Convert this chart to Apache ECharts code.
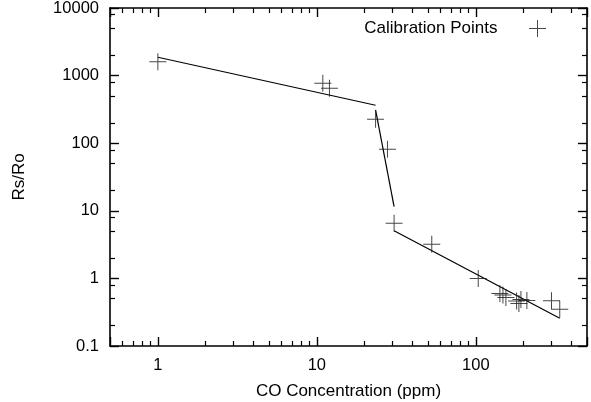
<!DOCTYPE html>
<html><head><meta charset="utf-8">
<script src="https://cdn.jsdelivr.net/npm/echarts@6/dist/echarts.min.js"></script>
<style>html,body{margin:0;padding:0;background:#fff}#c{width:591px;height:402px}</style>
</head><body><div id="c"></div>
<script>
// Calibration points (CO ppm, Rs/Ro)
const calibX = [1.0, 10.9, 12.0, 23.4, 27.8, 30.6, 52.8, 103.5, 141.6, 148, 154.5, 180.4, 186.5, 192, 209.3, 299, 337];
const calibY = [1607, 770, 650, 226, 81.3, 6.53, 3.19, 1.0, 0.598, 0.567, 0.521, 0.464, 0.426, 0.488, 0.471, 0.468, 0.349];
// Piecewise fit lines
const fit1X = [1.0, 23.4],  fit1Y = [1866, 364];
const fit2X = [23.4, 30.6], fit2Y = [310, 11.5];
const fit3X = [30.6, 337],  fit3Y = [5.08, 0.257];
// Axis ranges and tick values
const X_MIN = 0.5, X_MAX = 500, Y_MIN = 0.1, Y_MAX = 10000;
const xMinorTicks = [0.6, 0.7, 0.8, 0.9, 2, 3, 4, 5, 6, 7, 8, 9, 20, 30, 40, 50, 60, 70, 80, 90, 200, 300, 400];
const yMinorTicks = [0.2, 0.5, 0.8, 2, 5, 8, 20, 50, 80, 200, 500, 800, 2000, 5000, 8000];
const legendName = 'Calibration Points';
const xName = 'CO Concentration (ppm)';
const yName = 'Rs/Ro';

const FONT = 'Liberation Sans, Arial, Helvetica, sans-serif';
const PLUS = 'path://M-8.5,-0.5H8.5V0.5H-8.5Z M-0.5,-8.5H0.5V8.5H-0.5Z';
const pairs = (xs, ys) => xs.map((x, i) => [x, ys[i]]);
const decadeLabel = v => {
  const l = Math.log10(v);
  return Math.abs(l - Math.round(l)) < 1e-6 ? String(+v.toPrecision(6)) : '';
};
const lineW = 1.6;
const majorTick = { show: true, inside: true, length: 9, lineStyle: { color: '#000', width: 1.4 } };
const minorTick = { show: true, inside: true, length: 5, lineStyle: { color: '#000', width: 1.2 } };
const axisLineStyle = { show: true, onZero: false, lineStyle: { color: '#000', width: lineW } };
const noLine = { show: false, onZero: false };
const tickLabelStyle = { color: '#000', fontSize: 16.5, fontFamily: FONT };
const textStyle = { color: '#000', fontSize: 17, fontFamily: FONT };

const chart = echarts.init(document.getElementById('c'), null, { renderer: 'canvas' });
chart.setOption({
  animation: false,
  backgroundColor: '#fff',
  grid: { left: 110, right: 4, top: 8, bottom: 56, outerBoundsMode: 'none' },
  legend: {
    data: [{ name: legendName, icon: PLUS }],
    right: 45, top: 20, padding: 0,
    align: 'right', itemWidth: 70, itemHeight: 17,
    textStyle: textStyle, selectedMode: false
  },
  xAxis: [
    { type: 'log', logBase: 10, min: X_MIN, max: X_MAX, position: 'bottom',
      axisLine: axisLineStyle, axisTick: majorTick,
      axisLabel: Object.assign({ margin: 11, formatter: decadeLabel }, tickLabelStyle),
      splitLine: { show: false }, minorTick: { show: false },
      name: xName, nameLocation: 'middle', nameGap: 37, nameTextStyle: textStyle },
    { type: 'log', logBase: 10, min: X_MIN, max: X_MAX, position: 'top',
      axisLine: axisLineStyle, axisTick: majorTick, axisLabel: { show: false },
      splitLine: { show: false } },
    { type: 'value', min: Math.log10(X_MIN), max: Math.log10(X_MAX), position: 'bottom',
      axisLine: noLine, axisLabel: { show: false }, splitLine: { show: false },
      axisTick: Object.assign({ customValues: xMinorTicks.map(Math.log10) }, minorTick) },
    { type: 'value', min: Math.log10(X_MIN), max: Math.log10(X_MAX), position: 'top',
      axisLine: noLine, axisLabel: { show: false }, splitLine: { show: false },
      axisTick: Object.assign({ customValues: xMinorTicks.map(Math.log10) }, minorTick) }
  ],
  yAxis: [
    { type: 'log', logBase: 10, min: Y_MIN, max: Y_MAX, position: 'left',
      axisLine: axisLineStyle, axisTick: majorTick,
      axisLabel: Object.assign({ margin: 11, formatter: decadeLabel }, tickLabelStyle),
      splitLine: { show: false },
      name: yName, nameLocation: 'middle', nameGap: 82, nameRotate: 90, nameTextStyle: textStyle },
    { type: 'log', logBase: 10, min: Y_MIN, max: Y_MAX, position: 'right',
      axisLine: axisLineStyle, axisTick: majorTick, axisLabel: { show: false },
      splitLine: { show: false } },
    { type: 'value', min: Math.log10(Y_MIN), max: Math.log10(Y_MAX), position: 'left',
      axisLine: noLine, axisLabel: { show: false }, splitLine: { show: false },
      axisTick: Object.assign({ customValues: yMinorTicks.map(Math.log10) }, minorTick) },
    { type: 'value', min: Math.log10(Y_MIN), max: Math.log10(Y_MAX), position: 'right',
      axisLine: noLine, axisLabel: { show: false }, splitLine: { show: false },
      axisTick: Object.assign({ customValues: yMinorTicks.map(Math.log10) }, minorTick) }
  ],
  series: [
    { type: 'line', data: pairs(fit1X, fit1Y), showSymbol: false, symbol: 'none',
      lineStyle: { color: '#000', width: 1.2 }, silent: true, z: 2 },
    { type: 'line', data: pairs(fit2X, fit2Y), showSymbol: false, symbol: 'none',
      lineStyle: { color: '#000', width: 1.2 }, silent: true, z: 2 },
    { type: 'line', data: pairs(fit3X, fit3Y), showSymbol: false, symbol: 'none',
      lineStyle: { color: '#000', width: 1.2 }, silent: true, z: 2 },
    { type: 'scatter', name: legendName, data: pairs(calibX, calibY),
      symbol: PLUS, symbolSize: 17, itemStyle: { color: '#1a1a1a' }, z: 3 }
  ]
});
</script>
</body></html>
